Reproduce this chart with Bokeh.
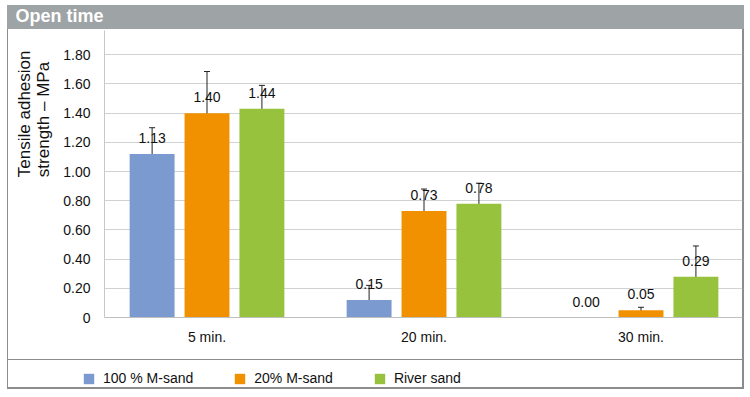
from bokeh.plotting import figure
from bokeh.layouts import column, row
from bokeh.models import (ColumnDataSource, Range1d, FixedTicker, NumeralTickFormatter,
                          Whisker, TeeHead, LabelSet, Legend, LegendItem, Title)
from bokeh.core.properties import value
from bokeh.embed import file_html
from bokeh.resources import INLINE

# ---- data ----
groups = ["5 min.", "20 min.", "30 min."]
series = ["100 % M-sand", "20% M-sand", "River sand"]
colors = ["#7b9bd0", "#f29100", "#97c23e"]
bar_msand100 = [1.12, 0.12, 0.0]
bar_msand20 = [1.40, 0.73, 0.05]
bar_river = [1.43, 0.78, 0.28]
lab_msand100 = ["1.13", "0.15", "0.00"]
lab_msand20 = ["1.40", "0.73", "0.05"]
lab_river = ["1.44", "0.78", "0.29"]
mean_msand100 = [1.13, 0.15, 0.0]
mean_msand20 = [1.40, 0.73, 0.05]
mean_river = [1.435, 0.78, 0.285]
err_msand100 = [0.17, 0.07, 0.0]
err_msand20 = [0.285, 0.15, 0.02]
err_river = [0.155, 0.14, 0.205]
y_ticks = [0, 0.2, 0.4, 0.6, 0.8, 1.0, 1.2, 1.4, 1.6, 1.8]

FONT = "Liberation Sans"
W = 746
GRAY = "#8c8c8c"
BAR = "#9ea3a5"
TXT = "#111111"

p = figure(width=W, height=359, output_backend="svg", toolbar_location=None,
           x_range=Range1d(-0.4724, 2.4677), y_range=Range1d(0, 1.966),
           min_border_left=104, min_border_right=4, min_border_top=30, min_border_bottom=42)
p.outline_line_color = None
p.background_fill_color = None
p.border_fill_color = None

# title in gray bar
p.title.text = "Open time"
p.title.text_color = "white"
p.title.text_font = FONT
p.title.text_font_size = "18px"
p.title.text_font_style = "bold"
p.title.align = "left"
p.title.vertical_align = "middle"
p.title.offset = -89
p.title.standoff = 8

offsets = [-0.253, 0.0, 0.253]
bar_w = 0.207
bars = [bar_msand100, bar_msand20, bar_river]
labs = [lab_msand100, lab_msand20, lab_river]
means = [mean_msand100, mean_msand20, mean_river]
errs = [err_msand100, err_msand20, err_river]

for i in range(3):
    xs = [g + offsets[i] for g in range(len(groups))]
    src = ColumnDataSource(dict(x=xs, top=bars[i], lab=labs[i]))
    p.vbar(x="x", top="top", width=bar_w, source=src, fill_color=colors[i], line_color=None)
    ls = LabelSet(x="x", y="top", text="lab", source=src, y_offset=11,
                  text_align="center", text_baseline="alphabetic",
                  text_font=value(FONT), text_font_size="14px", text_color=TXT)
    p.add_layout(ls)
    ex = [x for x, e in zip(xs, errs[i]) if e > 0]
    em = [m for m, e in zip(means[i], errs[i]) if e > 0]
    ee = [e for e in errs[i] if e > 0]
    esrc = ColumnDataSource(dict(x=ex, lo=[m - e for m, e in zip(em, ee)],
                                 hi=[m + e for m, e in zip(em, ee)]))
    w = Whisker(base="x", lower="lo", upper="hi", source=esrc, dimension="height",
                line_color="#222222", line_width=1,
                upper_head=TeeHead(size=6, line_color="#222222", line_width=1),
                lower_head=TeeHead(size=6, line_color="#222222", line_width=1))
    p.add_layout(w)

# axes
p.xaxis.ticker = FixedTicker(ticks=[0, 1, 2])
p.xaxis.major_label_overrides = {0: groups[0], 1: groups[1], 2: groups[2]}
p.xaxis.major_tick_line_color = None
p.xaxis.minor_tick_line_color = None
p.xaxis.axis_line_color = "#bfbfbf"
p.xaxis.major_label_standoff = 5
p.xaxis.major_label_text_font = FONT
p.xaxis.major_label_text_font_size = "14px"
p.xaxis.major_label_text_color = TXT

p.yaxis.ticker = FixedTicker(ticks=y_ticks)
p.yaxis.formatter = NumeralTickFormatter(format="0.00")
p.yaxis.major_label_overrides = {0: "0"}
p.yaxis.major_tick_line_color = None
p.yaxis.minor_tick_line_color = None
p.yaxis.axis_line_color = "#c8c8c8"
p.yaxis.major_label_standoff = 8
p.yaxis.major_label_text_font = FONT
p.yaxis.major_label_text_font_size = "14px"
p.yaxis.major_label_text_color = TXT

p.xgrid.grid_line_color = None
p.ygrid.grid_line_color = "#cfd3d3"
p.ygrid.grid_line_width = 1

ytitle = Title(text="Tensile adhesion\nstrength \u2013 MPa", align="right", offset=20,
               text_font=FONT, text_font_size="17px", text_font_style="normal",
               text_color=TXT, standoff=16)
p.add_layout(ytitle, "left")

# legend strip
lg = figure(width=W, height=33, output_backend="svg", toolbar_location=None,
            x_range=Range1d(0, 1), y_range=Range1d(0, 1),
            x_axis_location=None, y_axis_location=None,
            min_border_left=0, min_border_right=0, min_border_top=0, min_border_bottom=0)
lg.outline_line_color = None
lg.background_fill_color = None
lg.border_fill_color = None
lg.grid.grid_line_color = None
swatches = []
for i in range(3):
    swatches.append(lg.vbar(x=[0.5], top=[0.0], width=0.0, fill_color=colors[i],
                            line_color=None))
legend = Legend(items=[LegendItem(label=series[i], renderers=[swatches[i]]) for i in range(3)],
                orientation="horizontal", location=(82, 6),
                glyph_width=13, glyph_height=13, label_height=13, label_standoff=8, spacing=40,
                label_text_font=FONT, label_text_font_size="14px", label_text_color=TXT,
                border_line_color=None, background_fill_alpha=0, padding=4, margin=0)
lg.add_layout(legend)

layout = column(p, row(lg, spacing=0), spacing=0)
layout.styles = {
    "background": (
        f"linear-gradient({BAR},{BAR}) 7px 5px / 737px 24px no-repeat, "
        f"linear-gradient({GRAY},{GRAY}) 7px 359px / 737px 1px no-repeat, "
        f"linear-gradient({GRAY},{GRAY}) 7px 29px / 1px 360px no-repeat, "
        f"linear-gradient({GRAY},{GRAY}) 742px 5px / 2px 384px no-repeat, "
        f"linear-gradient({GRAY},{GRAY}) 7px 387px / 737px 2px no-repeat, white"
    )
}

open("out.html", "w").write(file_html(layout, INLINE))
